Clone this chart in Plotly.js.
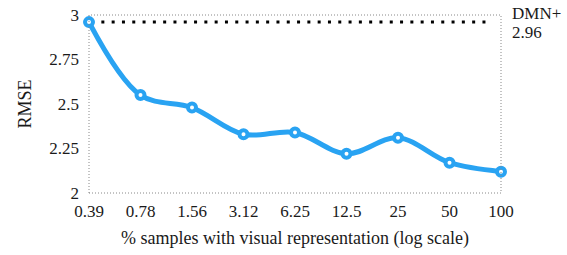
<!DOCTYPE html>
<html><head><meta charset="utf-8">
<script src="https://cdn.plot.ly/plotly-3.0.1.min.js"></script>
<style>html,body{margin:0;padding:0;background:#fff}#c{width:567px;height:255px}</style>
</head><body><div id="c"></div>
<script>
var categories = ["0.39","0.78","1.56","3.12","6.25","12.5","25","50","100"];
var rmse = [2.96,2.55,2.48,2.33,2.34,2.22,2.31,2.17,2.12];
var baselineName = "DMN+";
var baselineValue = 2.96;
var yTicks = [2,2.25,2.5,2.75,3];

function F(s){ return {family:"Liberation Serif", size:s||17, color:"#1a1a1a"}; }
var trace = {
  x: categories, y: rmse, type:"scatter", mode:"lines+markers",
  line:{color:"#29a3f2", width:5, shape:"spline", smoothing:1},
  marker:{symbol:"circle", size:8, color:"#ffffff", line:{color:"#29a3f2", width:4}},
  cliponaxis:false, hoverinfo:"skip"
};
var layout = {
  width:567, height:255,
  margin:{l:89, r:66, t:15, b:62},
  paper_bgcolor:"#fff", plot_bgcolor:"rgba(0,0,0,0)",
  font: F(), showlegend:false,
  xaxis:{type:"category", range:[0, categories.length-1], showgrid:false, zeroline:false,
    showline:false, ticks:"", ticklabelstandoff:6, tickfont:F(17),
    title:{text:"% samples with visual representation (log scale)", font:F(18), standoff:11}},
  yaxis:{range:[2,3], tickvals:yTicks, ticktext:yTicks.map(String), showgrid:false, zeroline:false,
    showline:false, ticks:"", ticklabelstandoff:9, tickfont:F(17),
    title:{text:"RMSE", font:F(18), standoff:12}},
  shapes:[
    {type:"rect", xref:"paper", yref:"paper", x0:0, x1:1, y0:0, y1:1,
     line:{color:"#888", width:1, dash:"1px,2px"}, layer:"above"},
    {type:"line", xref:"paper", yref:"y", x0:0.03, x1:0.98, y0:baselineValue, y1:baselineValue,
     line:{color:"#000", width:3, dash:"3px,7.3px"}, layer:"below"}
  ],
  annotations:[
    {xref:"paper", yref:"paper", x:1, y:1.006, xanchor:"left", yanchor:"middle", xshift:9,
     text: baselineName, showarrow:false, align:"left", font:F(17)},
    {xref:"paper", yref:"paper", x:1, y:0.904, xanchor:"left", yanchor:"middle", xshift:9,
     text: baselineValue.toFixed(2), showarrow:false, align:"left", font:F(17)}
  ]
};
Plotly.newPlot("c",[trace],layout,{staticPlot:true});
</script></body></html>
